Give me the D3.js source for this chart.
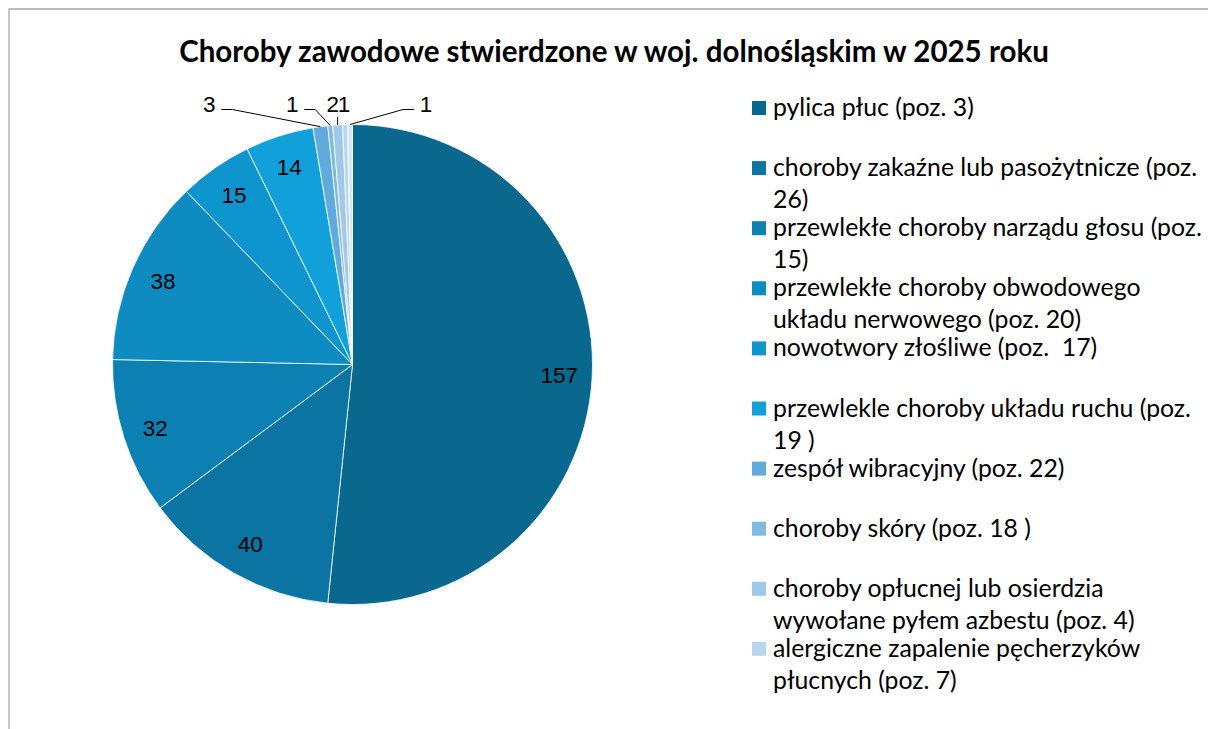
<!DOCTYPE html>
<html lang="pl">
<head>
<meta charset="utf-8">
<script src="https://cdn.jsdelivr.net/npm/d3@7"></script>
<style>
  html, body { margin: 0; padding: 0; background: #fff; }
  svg { display: block; }
</style>
</head>
<body>
<svg id="chart" width="1208" height="729"></svg>
<script>
// Choroby zawodowe stwierdzone w woj. dolnośląskim w 2025 roku
const title = "Choroby zawodowe stwierdzone w woj. dolnośląskim w 2025 roku";

const categories = [
  "pylica płuc (poz. 3)",
  "choroby zakaźne lub pasożytnicze (poz.\n26)",
  "przewlekłe choroby narządu głosu (poz.\n15)",
  "przewlekłe choroby obwodowego\nukładu nerwowego (poz. 20)",
  "nowotwory złośliwe (poz.  17)",
  "przewlekle choroby układu ruchu (poz.\n19 )",
  "zespół wibracyjny (poz. 22)",
  "choroby skóry (poz. 18 )",
  "choroby opłucnej lub osierdzia\nwywołane pyłem azbestu (poz. 4)",
  "alergiczne zapalenie pęcherzyków\npłucnych (poz. 7)",
  "pozostałe"
];

const values = [157, 40, 32, 38, 15, 14, 3, 1, 2, 1, 1];

const colors = [
  "#0a688e", "#0b74a2", "#0c80b2", "#0e8bc1", "#0f95cd", "#12a0da",
  "#60abdb", "#80b9e1", "#a0c8e8", "#bad6ee", "#d6e7f5"
];

// legend box only has room for this many entries
const legendCount = 10;

const svg = d3.select("#chart");
const W = 1208, H = 729;

// chart area frame
svg.append("path")
  .attr("d", `M9,${H + 5} V9 H${W + 5}`)
  .attr("fill", "none")
  .attr("stroke", "#a6a6a6")
  .attr("stroke-width", 1.3);

svg.append("text")
  .attr("x", 614)
  .attr("y", 62)
  .attr("text-anchor", "middle")
  .attr("font-family", "Lato, 'Open Sans', sans-serif")
  .attr("font-weight", "bold")
  .attr("font-size", 29.5)
  .attr("fill", "#000")
  .text(title);

// ---- pie ----
const cx = 352.5, cy = 364.5, R = 240;
const data = values.map((v, i) => ({ name: categories[i], value: v, color: colors[i], i }));

const pie = d3.pie().sort(null).value(d => d.value);
const arcs = pie(data);
const arc = d3.arc().innerRadius(0).outerRadius(R);

const g = svg.append("g").attr("transform", `translate(${cx},${cy})`);

g.selectAll("path.slice")
  .data(arcs)
  .join("path")
  .attr("class", "slice")
  .attr("d", arc)
  .attr("fill", d => d.data.color)
  .attr("stroke", "#fff")
  .attr("stroke-width", 0.8)
  .attr("stroke-linejoin", "round");

const labelFont = "'Liberation Sans', Arial, sans-serif";
const labelSize = 22.5;
const insideArc = d3.arc().innerRadius(207).outerRadius(207);
const big = arcs.filter(d => d.data.value >= 5);
const small = arcs.filter(d => d.data.value < 5);

g.selectAll("text.inner")
  .data(big)
  .join("text")
  .attr("class", "inner")
  .attr("x", d => insideArc.centroid(d)[0])
  .attr("y", d => insideArc.centroid(d)[1])
  .attr("dy", "0.35em")
  .attr("text-anchor", "middle")
  .attr("font-family", labelFont)
  .attr("font-size", labelSize)
  .attr("fill", "#000")
  .text(d => d.data.value);

// thin slices at the top get labels pulled out above the pie
const pullOut = [-111, -38, -5, -1, 76];
const labelY = -R - 13;
const elbowY = -R - 15;

small.forEach((d, k) => {
  const a = (d.startAngle + d.endAngle) / 2;
  const px = R * Math.sin(a), py = -R * Math.cos(a);
  const lx = px + pullOut[k];
  const s = Math.sign(pullOut[k]);
  if (Math.abs(pullOut[k]) > 20) {
    g.append("path")
      .attr("d", `M${px},${py} L${lx - s * 23},${elbowY} L${lx - s * 12},${elbowY}`)
      .attr("fill", "none")
      .attr("stroke", "#000")
      .attr("stroke-width", 1);
  } else if (Math.abs(pullOut[k]) > 3) {
    g.append("path")
      .attr("d", `M${px},${py} V${py - 8}`)
      .attr("stroke", "#000")
      .attr("stroke-width", 1);
  }
  g.append("text")
    .attr("x", lx)
    .attr("y", labelY)
    .attr("text-anchor", "middle")
    .attr("font-family", labelFont)
    .attr("font-size", labelSize)
    .attr("fill", "#000")
    .text(d.data.value);
});

// ---- legend ----
const legend = svg.append("g").attr("transform", "translate(752,108)");
const step = 60.1, lineH = 32;
const items = legend.selectAll("g.item")
  .data(data.slice(0, legendCount))
  .join("g")
  .attr("class", "item")
  .attr("transform", (d, i) => `translate(0,${i * step})`);

items.append("rect")
  .attr("x", 0).attr("y", -7)
  .attr("width", 14).attr("height", 14)
  .attr("fill", d => d.color);

items.append("text")
  .attr("font-family", "Lato, 'Open Sans', sans-serif")
  .attr("font-size", 24.8)
  .attr("fill", "#000")
  .selectAll("tspan")
  .data(d => d.name.split("\n"))
  .join("tspan")
  .attr("x", 21)
  .attr("y", (t, j) => 8 + j * lineH)
  .style("white-space", "pre")
  .text(t => t);
</script>
</body>
</html>
